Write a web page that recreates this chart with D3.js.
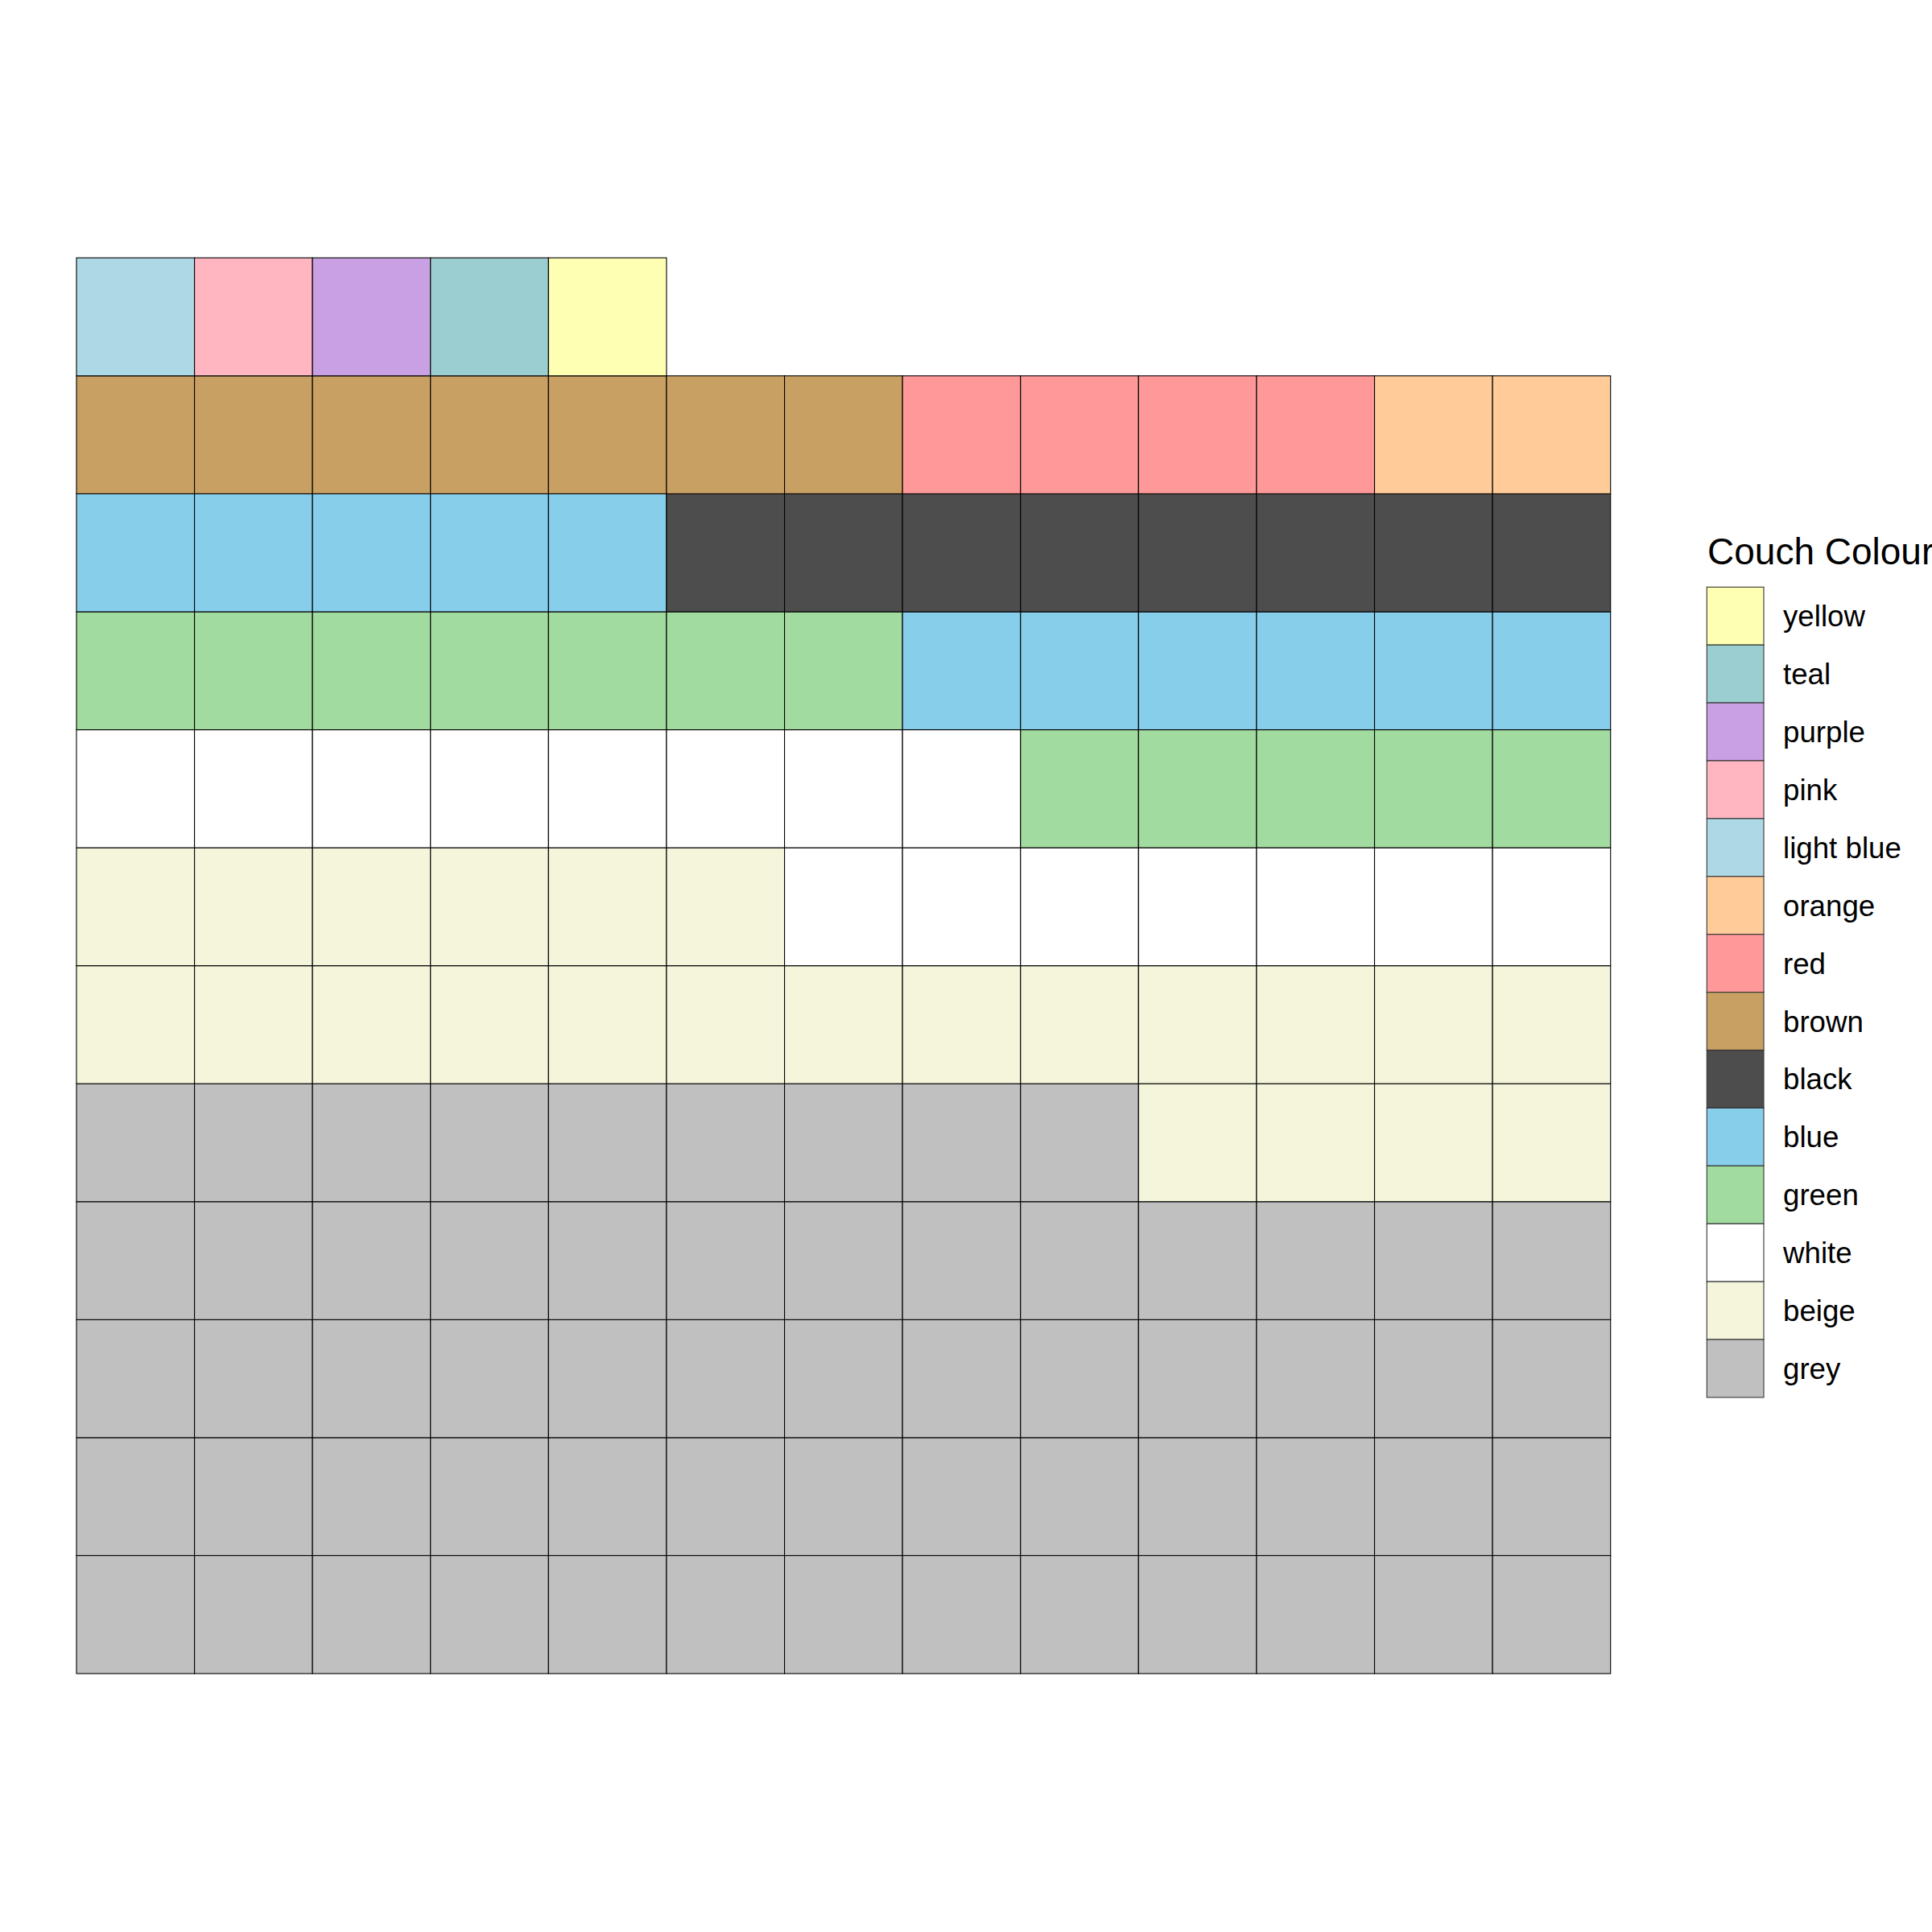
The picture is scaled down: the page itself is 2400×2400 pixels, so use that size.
<!DOCTYPE html>
<html>
<head>
<meta charset="utf-8">
<script src="https://cdn.jsdelivr.net/npm/d3@7"></script>
<style>
  html, body { margin: 0; padding: 0; background: #fff; }
  svg { display: block; }
  text { font-family: "Liberation Sans", Arial, Helvetica, sans-serif; }
</style>
</head>
<body>
<svg id="chart" width="2400" height="2400"></svg>
<script>
// Data (fill order: bottom-left first, row by row, left to right)
const categories = ["grey", "beige", "white", "green", "blue", "black", "brown", "red", "orange", "light blue", "pink", "purple", "teal", "yellow"];
const counts     = [61, 23, 15, 12, 11, 8, 7, 4, 2, 1, 1, 1, 1, 1];
const colours    = ["#C0C0C0", "#F5F5DC", "#FFFFFF", "#A2DBA0", "#87CEEB", "#4D4D4D", "#C8A064", "#FF9999", "#FFCC99", "#ADD8E6", "#FFB6C1", "#C9A0E3", "#9ACED1", "#FFFFB3"];
const legendTitle = "Couch Colour";
const nCols = 13;
const nRows = 12;

const svg = d3.select("#chart");

// Expand counts to individual cells
const cells = [];
categories.forEach((c, i) => {
  for (let k = 0; k < counts[i]; k++) cells.push({ cat: c });
});
cells.forEach((d, i) => { d.col = i % nCols; d.row = Math.floor(i / nCols); });

const gLeft = 95, gRight = 2000.7, gTop = 320.3, gBottom = 2079;
const x = d3.scaleBand().domain(d3.range(nCols)).range([gLeft, gRight]).padding(0);
const y = d3.scaleBand().domain(d3.range(nRows)).range([gBottom, gTop]).padding(0);
const color = d3.scaleOrdinal().domain(categories).range(colours);

svg.append("g").selectAll("rect").data(cells).join("rect")
  .attr("x", d => x(d.col))
  .attr("y", d => y(d.row))
  .attr("width", x.bandwidth())
  .attr("height", y.bandwidth())
  .attr("fill", d => color(d.cat))
  .attr("stroke", "#000")
  .attr("stroke-width", 1.1);

// Legend (reverse order)
const legendCats = categories.slice().reverse();
const lx = 2120.3, ly = 729.3, kw = 70.7, kh = 71.9;
const ly0 = d3.scaleBand().domain(legendCats).range([ly, ly + kh * legendCats.length]);

svg.append("text")
  .attr("x", 2121)
  .attr("y", 701)
  .attr("font-size", 46)
  .attr("fill", "#000")
  .text(legendTitle);

const lg = svg.append("g").selectAll("g").data(legendCats).join("g");
lg.append("rect")
  .attr("x", lx)
  .attr("y", d => ly0(d))
  .attr("width", kw)
  .attr("height", ly0.bandwidth())
  .attr("fill", d => color(d))
  .attr("stroke", "#333")
  .attr("stroke-width", 1.1);
lg.append("text")
  .attr("x", 2215)
  .attr("y", d => ly0(d) + ly0.bandwidth() / 2 + 13)
  .attr("font-size", 36.7)
  .attr("fill", "#000")
  .text(d => d);
</script>
</body>
</html>
